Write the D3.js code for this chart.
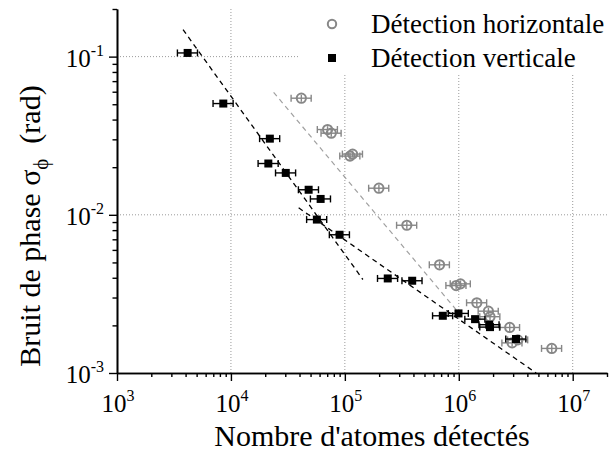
<!DOCTYPE html>
<html><head><meta charset="utf-8">
<script src="https://cdn.jsdelivr.net/npm/d3@7"></script>
<style>
html,body{margin:0;padding:0;background:#fff;}
svg text{font-family:"Liberation Serif","Times New Roman",serif;fill:#000;}
</style></head>
<body><svg id="c" width="610" height="454"></svg>
<script>
// ---- data ----
const vertN   = [4170, 8570, 21960, 21300, 30300, 48100, 61300, 56800, 89900, 238000, 390000, 724000, 994000, 1390000, 1850000, 1880000, 3180000];
const vertSig = [0.1055, 0.0505, 0.0303, 0.0211, 0.0184, 0.0144, 0.0126, 0.00933, 0.00748, 0.00396, 0.00383, 0.00230, 0.00238, 0.00219, 0.00202, 0.00195, 0.00164];
const horN    = [41500, 70500, 76000, 111000, 117000, 199000, 350000, 678000, 948000, 1035000, 1440000, 1820000, 1880000, 2800000, 2940000, 3300000, 6550000];
const horSig  = [0.0546, 0.0346, 0.0328, 0.0235, 0.0242, 0.01473, 0.00859, 0.00483, 0.00357, 0.00366, 0.00278, 0.00246, 0.00227, 0.00194, 0.00155, 0.00162, 0.00143];
const relErrN = 0.22;   // relative horizontal uncertainty on atom number
const relErrSig = 0.05; // relative vertical uncertainty on phase noise
const fitVertSteep   = [[3800, 0.148], [144000, 0.0039]];
const fitVertShallow = [[39300, 0.01107], [4780000, 0.001]];
const fitHor         = [[23700, 0.0595], [976000, 0.00245]];
const xTickExps = [3, 4, 5, 6, 7];
const yTickExps = [-1, -2, -3];
const xGridVals = [1e4, 1e5, 1e6, 1e7];
const yGridVals = [1e-1, 1e-2];
const legendLabels = ["Détection horizontale", "Détection verticale"];
const xTitle = "Nombre d'atomes détectés";

// ---- layout ----
const svg = d3.select("#c");
const L = 117, R = 607, T = 9, B = 373;
const x = d3.scaleLog().domain([1e3, 2e7]).range([L, R]);
const y = d3.scaleLog().domain([1e-3, 0.2]).range([B, T]);
const GRAY = "#878787";

// grid
const grid = svg.append("g").attr("stroke", "#9a9a9a").attr("stroke-width", 1).attr("stroke-dasharray", "1,2");
xGridVals.forEach(v => grid.append("line").attr("x1", x(v)).attr("x2", x(v)).attr("y1", T).attr("y2", B));
yGridVals.forEach(v => grid.append("line").attr("x1", L).attr("x2", R).attr("y1", y(v)).attr("y2", y(v)));

// legend background (covers grid)
svg.append("rect").attr("x", 300).attr("y", 0).attr("width", 310).attr("height", 75).attr("fill", "#fff");

// fit lines
const line = d3.line().x(d => x(d[0])).y(d => y(d[1]));
svg.append("path").attr("d", line(fitHor)).attr("fill", "none").attr("stroke", "#a0a0a0").attr("stroke-width", 1.2).attr("stroke-dasharray", "5,4");
svg.append("path").attr("d", line(fitVertSteep)).attr("fill", "none").attr("stroke", "#000").attr("stroke-width", 1.3).attr("stroke-dasharray", "5,4");
svg.append("path").attr("d", line(fitVertShallow)).attr("fill", "none").attr("stroke", "#000").attr("stroke-width", 1.3).attr("stroke-dasharray", "5,4");

// error bars + markers
function errBars(ns, ss, color) {
  const g = svg.append("g").attr("stroke", color).attr("stroke-width", 1.4).attr("fill", "none");
  ns.forEach((n, i) => {
    const x0 = x(n * (1 - relErrN * 0.85)), x1 = x(n * (1 + relErrN)), yy = y(ss[i]);
    g.append("line").attr("x1", x0).attr("x2", x1).attr("y1", yy).attr("y2", yy);
    g.append("line").attr("x1", x0).attr("x2", x0).attr("y1", yy - 3.5).attr("y2", yy + 3.5);
    g.append("line").attr("x1", x1).attr("x2", x1).attr("y1", yy - 3.5).attr("y2", yy + 3.5);
  });
  return g;
}
const gh = errBars(horN, horSig, GRAY);
horN.forEach((n, i) => {
  gh.append("line").attr("x1", x(n)).attr("x2", x(n)).attr("y1", y(horSig[i] * (1 + relErrSig))).attr("y2", y(horSig[i] * (1 - relErrSig)));
  gh.append("circle").attr("cx", x(n)).attr("cy", y(horSig[i])).attr("r", 4.6).attr("stroke-width", 2);
});
errBars(vertN, vertSig, "#000");
svg.append("g").selectAll("rect").data(vertN).join("rect")
  .attr("x", d => x(d) - 4).attr("y", (d, i) => y(vertSig[i]) - 4)
  .attr("width", 8).attr("height", 8).attr("fill", "#000");

// axes
const xMinor = [], yMinor = [];
for (let e = 3; e <= 7; e++) for (let m = 2; m <= 9; m++) { const v = m * Math.pow(10, e); if (v <= 2e7) xMinor.push(v); }
for (let e = -3; e <= -1; e++) for (let m = 2; m <= 9; m++) { const v = m * Math.pow(10, e); if (v <= 0.2 + 1e-9) yMinor.push(v); }
const xMajor = xTickExps.map(e => Math.pow(10, e));
const yMajor = yTickExps.map(e => Math.pow(10, e));

function styleAxis(g) { g.select(".domain").attr("stroke-width", 1.6); g.selectAll(".tick line").attr("stroke-width", 1.4); }
svg.append("g").attr("transform", `translate(0,${B})`).call(d3.axisBottom(x).tickValues(xMinor).tickSize(4).tickSizeOuter(0).tickFormat("")).call(styleAxis);
svg.append("g").attr("transform", `translate(0,${B})`).call(d3.axisBottom(x).tickValues(xMajor).tickSize(8).tickSizeOuter(0).tickFormat("")).call(styleAxis);
svg.append("g").attr("transform", `translate(${L},0)`).call(d3.axisLeft(y).tickValues(yMinor).tickSize(4.5).tickSizeOuter(0).tickFormat("")).call(styleAxis);
svg.append("g").attr("transform", `translate(${L},0)`).call(d3.axisLeft(y).tickValues(yMajor).tickSize(8).tickSizeOuter(0).tickFormat("")).call(styleAxis);

// tick labels
xTickExps.forEach(e => {
  const t = svg.append("text").attr("x", x(Math.pow(10, e)) + 1).attr("y", 412).attr("text-anchor", "middle").attr("font-size", 25);
  t.append("tspan").text("10");
  t.append("tspan").attr("dy", -11).attr("font-size", 16).text(e);
});
yTickExps.forEach(e => {
  const t = svg.append("text").attr("x", 104).attr("y", y(Math.pow(10, e)) + 10).attr("text-anchor", "end").attr("font-size", 25);
  t.append("tspan").text("10");
  t.append("tspan").attr("dy", -11).attr("font-size", 16).text(e);
});

// axis titles
svg.append("text").attr("x", 372).attr("y", 446).attr("text-anchor", "middle").attr("font-size", 30).text(xTitle);
const yt = svg.append("text").attr("transform", "translate(40,226) rotate(-90)").attr("text-anchor", "middle").attr("font-size", 30);
yt.append("tspan").text("Bruit de phase σ");
yt.append("tspan").attr("dy", 8).attr("font-size", 21).text("\u03d5");
yt.append("tspan").attr("dy", -8).text("\u00a0\u00a0(rad)");

// legend
svg.append("circle").attr("cx", 332).attr("cy", 24).attr("r", 4.2).attr("fill", "none").attr("stroke", GRAY).attr("stroke-width", 2);
svg.append("rect").attr("x", 328).attr("y", 54).attr("width", 8).attr("height", 8).attr("fill", "#000");
svg.append("text").attr("x", 371).attr("y", 33).attr("font-size", 27).text(legendLabels[0]);
svg.append("text").attr("x", 371).attr("y", 67).attr("font-size", 27).text(legendLabels[1]);
</script></body></html>
